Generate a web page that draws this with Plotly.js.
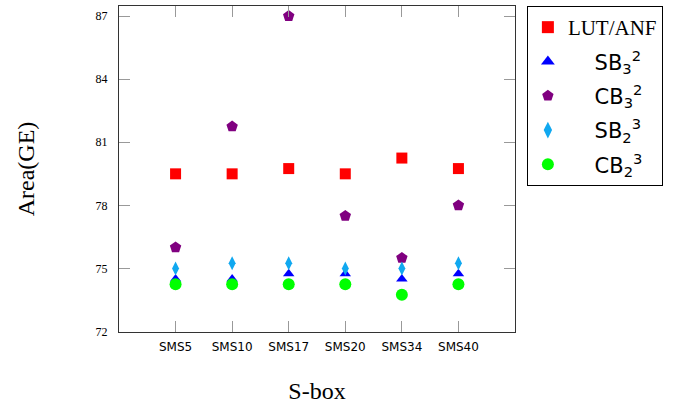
<!DOCTYPE html>
<html>
<head>
<meta charset="utf-8">
<script src="https://cdn.plot.ly/plotly-3.0.1.min.js"></script>
<style>html,body{margin:0;padding:0;background:#fff;}#chart{width:673px;height:405px;}</style>
</head>
<body>
<div id="chart"></div>
<script>
const categories = ["SMS5", "SMS10", "SMS17", "SMS20", "SMS34", "SMS40"];
const lutAnf = [79.5, 79.5, 79.75, 79.5, 80.25, 79.75];
const sb32 = [74.5, 74.5, 74.75, 74.75, 74.5, 74.75];
const cb32 = [76, 81.75, 87, 77.5, 75.5, 78];
const sb23 = [75, 75.25, 75.25, 75, 75, 75.25];
const cb23 = [74.25, 74.25, 74.25, 74.25, 73.75, 74.25];
const yTicks = [72, 75, 78, 81, 84, 87];

const NB = '\u00a0';
const pad = NB.repeat(4);
const serif = 'Liberation Serif, DejaVu Serif, serif';
const sans = 'DejaVu Sans, sans-serif';

const idx = categories.map((c, i) => i);
function tr(name, y, symbol, color, size, grp) {
  return {
    x: idx, y: y, name: name, type: 'scatter', mode: 'markers',
    legendgroup: grp,
    marker: {symbol: symbol, color: color, size: size, line: {width: 0}},
    cliponaxis: false
  };
}
const data = [
  tr('<span style="font-family:' + serif + ';font-size:21px">LUT/ANF</span>', lutAnf, 'square', '#ff0000', 11, 'a'),
  tr(pad + 'SB<sub>3</sub><sup>2</sup>', sb32, 'triangle-up', '#0000ff', 10, 'b'),
  tr(pad + 'CB<sub>3</sub><sup>2</sup>', cb32, 'pentagon', '#800080', 12, 'c'),
  tr(pad + 'SB<sub>2</sub><sup>3</sup>', sb23, 'diamond-tall', '#10a8f0', 10, 'd'),
  tr(pad + 'CB<sub>2</sub><sup>3</sup>', cb23, 'circle', '#00ff00', 12, 'e')
];

const layout = {
  width: 673, height: 405,
  margin: {l: 119, r: 158, t: 6, b: 73},
  paper_bgcolor: '#fff', plot_bgcolor: '#fff',
  showlegend: true,
  legend: {
    x: 1.03, xanchor: 'left', y: 1, yanchor: 'top',
    bordercolor: '#000', borderwidth: 1, bgcolor: '#fff',
    font: {family: sans, size: 21, color: '#000'},
    itemsizing: 'constant',
    tracegroupgap: 4
  },
  xaxis: {
    range: [-1, 6],
    tickmode: 'array', tickvals: idx, ticktext: categories,
    ticks: 'inside', ticklen: 11, tickcolor: '#999', tickwidth: 1,
    showline: true, linecolor: '#333', linewidth: 1, mirror: 'ticks',
    showgrid: false, zeroline: false,
    tickfont: {family: sans, size: 12, color: '#000'},
    ticklabelstandoff: 4,
    title: {text: 'S-box', font: {family: serif, size: 24, color: '#000'}, standoff: 28}
  },
  yaxis: {
    range: [71.98, 87.48],
    tickmode: 'array', tickvals: yTicks, ticktext: yTicks.map(String),
    ticks: 'inside', ticklen: 11, tickcolor: '#999', tickwidth: 1,
    showline: true, linecolor: '#333', linewidth: 1, mirror: 'ticks',
    showgrid: false, zeroline: false,
    tickfont: {family: serif, size: 12, color: '#000'},
    ticklabelstandoff: 8,
    title: {text: 'Area(GE)', font: {family: serif, size: 24, color: '#000'}, standoff: 54}
  }
};
Plotly.newPlot('chart', data, layout, {displayModeBar: false, staticPlot: true});
</script>
</body>
</html>
